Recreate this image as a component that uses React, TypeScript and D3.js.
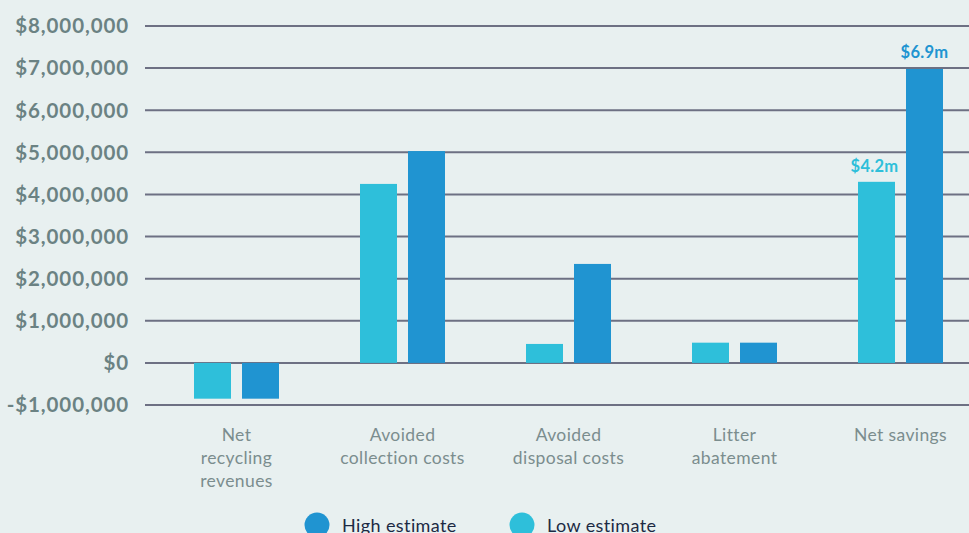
import React from "react";
import * as d3 from "d3";

const categories = [
  ["Net", "recycling", "revenues"],
  ["Avoided", "collection costs"],
  ["Avoided", "disposal costs"],
  ["Litter", "abatement"],
  ["Net savings"],
];
const lowEstimate = [-850000, 4250000, 450000, 480000, 4300000];
const highEstimate = [-850000, 5030000, 2350000, 480000, 6980000];
const yTicks = [-1000000, 0, 1000000, 2000000, 3000000, 4000000, 5000000, 6000000, 7000000, 8000000];
const valueLabels: [string, string][] = [["", ""], ["", ""], ["", ""], ["", ""], ["$4.2m", "$6.9m"]];
const seriesNames = ["High estimate", "Low estimate"];

const W = 969;
const H = 533;
const LOW = "#2ebfda";
const HIGH = "#2094d1";

export default function App() {
  const y = d3.scaleLinear().domain([-1000000, 8000000]).range([405, 26]);
  const x = d3.scaleBand<number>().domain(d3.range(categories.length)).range([153.5, 983.5]).paddingInner(0).paddingOuter(0);
  const barW = 37;
  const gap = 11;
  const fmt = (v: number) => (v < 0 ? "-$" : "$") + d3.format(",")(Math.abs(v));
  return (
    <svg width={W} height={H} style={{ position: "absolute", left: 0, top: 0, display: "block" }}>
      <rect x={0} y={0} width={W} height={H} fill="#e8f0f0" />
      {yTicks.map((t) => (
        <g key={t}>
          <line x1={145} x2={W} y1={y(t)} y2={y(t)} stroke="#6d7083" strokeWidth={2} />
          <text x={129} y={y(t)} dy="0.36em" textAnchor="end" fill="#6b8283" fontFamily="Lato, sans-serif" fontWeight={700} fontSize={20.5} letterSpacing={0.9}>
            {fmt(t)}
          </text>
        </g>
      ))}
      {categories.map((c, i) => {
        const cx = (x(i) as number) + x.bandwidth() / 2;
        const lowX = cx - gap / 2 - barW;
        const highX = cx + gap / 2;
        const lv = lowEstimate[i];
        const hv = highEstimate[i];
        return (
          <g key={i}>
            <rect x={lowX} width={barW} y={Math.min(y(lv), y(0))} height={Math.abs(y(lv) - y(0))} fill={LOW} />
            <rect x={highX} width={barW} y={Math.min(y(hv), y(0))} height={Math.abs(y(hv) - y(0))} fill={HIGH} />
            {valueLabels[i][0] && (
              <text x={lowX + barW / 2 - 2} y={y(lv) - 10} textAnchor="middle" fill={LOW} fontFamily="Lato, sans-serif" fontWeight={700} fontSize={16.5} letterSpacing={0.3}>
                {valueLabels[i][0]}
              </text>
            )}
            {valueLabels[i][1] && (
              <text x={highX + barW / 2} y={y(hv) - 11} textAnchor="middle" fill={HIGH} fontFamily="Lato, sans-serif" fontWeight={700} fontSize={16.5} letterSpacing={0.3}>
                {valueLabels[i][1]}
              </text>
            )}
            {c.map((line, j) => (
              <text key={j} x={cx} y={441 + j * 23} textAnchor="middle" fill="#7b8d8e" fontFamily="Lato, sans-serif" fontSize={17.5} letterSpacing={0.4}>
                {line}
              </text>
            ))}
          </g>
        );
      })}
      {seriesNames.map((s, i) => {
        const cx = i === 0 ? 317 : 522;
        return (
          <g key={s}>
            <circle cx={cx} cy={525} r={12.5} fill={i === 0 ? HIGH : LOW} />
            <text x={cx + 25} y={532} fill="#1c2a44" fontFamily="Lato, sans-serif" fontSize={18} letterSpacing={0.4}>
              {s}
            </text>
          </g>
        );
      })}
    </svg>
  );
}
